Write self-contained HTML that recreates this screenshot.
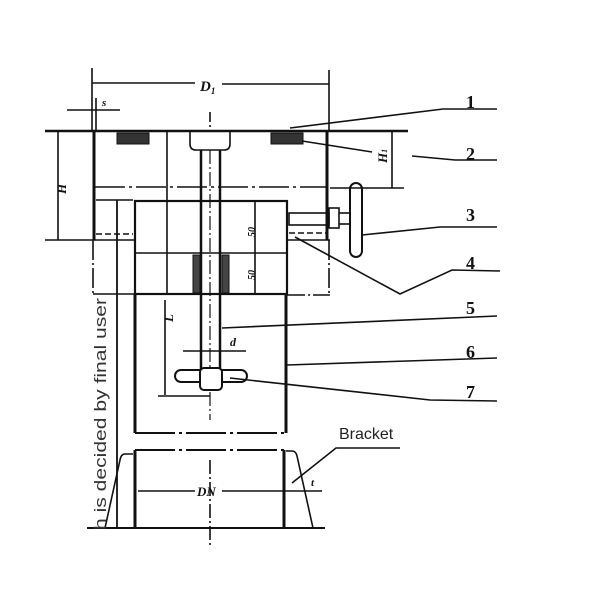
<!DOCTYPE html>
<html><head><style>body{margin:0;background:#fff}svg{display:block}</style></head><body>
<svg width="600" height="600" viewBox="0 0 600 600" xmlns="http://www.w3.org/2000/svg">
<g stroke="#111" fill="none" stroke-width="1.6">
<line x1="92" y1="68" x2="92" y2="131"/><line x1="329" y1="70" x2="329" y2="131"/>
<line x1="92" y1="83" x2="195" y2="83"/><line x1="222" y1="84" x2="329" y2="84"/>
<line x1="67" y1="110" x2="120" y2="110"/><line x1="96" y1="98" x2="96" y2="131"/>
<line x1="45" y1="131" x2="408" y2="131" stroke-width="2.5"/>
<line x1="94" y1="131" x2="94" y2="240" stroke-width="3"/>
<line x1="327" y1="131" x2="327" y2="240" stroke-width="3"/>
<line x1="58" y1="131" x2="58" y2="240"/><line x1="45" y1="240" x2="135" y2="240"/>
<rect x="117" y="133" width="32" height="11" fill="#333" stroke-width="1"/>
<rect x="271" y="133" width="32" height="11" fill="#333" stroke-width="1"/>
<path d="M190 132 v12 q0 6 6 6 h28 q6 0 6 -6 v-12"/>
<line x1="210" y1="112" x2="210" y2="127" stroke-dasharray="10 3 2 3"/>
<line x1="95" y1="187" x2="327" y2="187" stroke-dasharray="30 4 3 4"/>
<line x1="330" y1="188" x2="404" y2="188"/>
<line x1="392" y1="131" x2="392" y2="188"/>
<rect x="135" y="201" width="152" height="93" stroke-width="2.2"/>
<line x1="135" y1="253" x2="287" y2="253"/>
<line x1="255" y1="201" x2="255" y2="294"/><line x1="167" y1="131" x2="167" y2="294"/>
<line x1="96" y1="200" x2="133" y2="200"/><line x1="117" y1="200" x2="117" y2="528" stroke-width="1.8"/>
<line x1="96" y1="234" x2="133" y2="234" stroke-dasharray="6 3"/>
<line x1="93" y1="240" x2="93" y2="294" stroke-dasharray="20 3 2 3"/>
<line x1="93" y1="294" x2="135" y2="294"/>
<line x1="289" y1="233" x2="327" y2="233" stroke-dasharray="6 3"/>
<line x1="287" y1="240" x2="330" y2="240"/>
<line x1="329" y1="240" x2="329" y2="295" stroke-dasharray="20 3 2 3"/>
<line x1="287" y1="295" x2="330" y2="295" stroke-dasharray="18 3 2 3"/>
<line x1="201" y1="150" x2="201" y2="372" stroke-width="2.5"/>
<line x1="220" y1="150" x2="220" y2="372" stroke-width="2.5"/>
<line x1="210" y1="150" x2="210" y2="420" stroke-dasharray="14 3 2 3" stroke-width="1.2"/>
<rect x="193" y="255" width="7" height="38" fill="#444" stroke-width="1"/>
<rect x="222" y="255" width="7" height="38" fill="#444" stroke-width="1"/>
<rect x="289" y="213" width="40" height="12" stroke-width="1.6"/>
<rect x="329" y="208" width="10" height="20" stroke-width="1.6"/>
<line x1="339" y1="213" x2="350" y2="213"/><line x1="339" y1="224" x2="350" y2="224"/>
<rect x="350" y="183" width="12" height="74" rx="6" stroke-width="2"/>
<line x1="135" y1="294" x2="135" y2="433" stroke-width="3"/>
<line x1="286" y1="294" x2="286" y2="433" stroke-width="3"/>
<line x1="135" y1="433" x2="286" y2="433" stroke-width="2" stroke-dasharray="40 4 3 4"/>
<line x1="165" y1="300" x2="165" y2="395"/><line x1="158" y1="396" x2="210" y2="396"/>
<line x1="183" y1="351" x2="246" y2="351"/>
<rect x="175" y="370" width="72" height="12" rx="6" stroke-width="2" fill="#fff"/>
<rect x="200" y="368" width="22" height="22" rx="4" stroke-width="2" fill="#fff"/>
<line x1="135" y1="450" x2="285" y2="450" stroke-width="2" stroke-dasharray="40 4 3 4"/>
<line x1="135" y1="450" x2="135" y2="528" stroke-width="3"/>
<line x1="284" y1="450" x2="284" y2="528" stroke-width="3"/>
<line x1="87" y1="528" x2="325" y2="528" stroke-width="2"/>
<line x1="210" y1="460" x2="210" y2="545" stroke-dasharray="14 3 2 3"/>
<line x1="138" y1="491" x2="195" y2="491"/><line x1="222" y1="491" x2="322" y2="491"/>
<path d="M133 454 h-8 q-4 0 -5 6 l-15 68"/>
<path d="M286 451 h6 q4 0 5 5 l16 72"/>
<polyline points="290,128 443,109 497,109"/>
<line x1="302" y1="141" x2="372" y2="152"/>
<polyline points="412,156 455,160 497,160"/>
<polyline points="362,235 440,227 497,227"/>
<polyline points="295,237 400,294 452,270 500,271"/>
<line x1="222" y1="328" x2="497" y2="316"/>
<line x1="287" y1="365" x2="497" y2="358"/>
<polyline points="230,378 430,400 497,401"/>
<polyline points="292,483 336,448 400,448"/>
</g>
<g font-family="Liberation Serif, serif" font-style="italic" font-weight="bold" fill="#111">
<text x="200" y="91" font-size="15">D<tspan font-size="9" dy="3">1</tspan></text>
<text x="102" y="106" font-size="11">s</text>
<text x="466" y="108" font-size="18" font-style="normal">1</text>
<text x="466" y="160" font-size="18" font-style="normal">2</text>
<text x="466" y="221" font-size="18" font-style="normal">3</text>
<text x="466" y="269" font-size="18" font-style="normal">4</text>
<text x="466" y="314" font-size="18" font-style="normal">5</text>
<text x="466" y="358" font-size="18" font-style="normal">6</text>
<text x="466" y="398" font-size="18" font-style="normal">7</text>
<text x="230" y="346" font-size="12">d</text>
<text x="197" y="496" font-size="13">DN</text>
<text x="311" y="486" font-size="11">t</text>
<text transform="translate(66,194) rotate(-90)" font-size="13">H</text>
<text transform="translate(387,163) rotate(-90)" font-size="13">H<tspan font-size="8">1</tspan></text>
<text transform="translate(173,322) rotate(-90)" font-size="13">L</text>
<text transform="translate(255,237) rotate(-90)" font-size="10">50</text>
<text transform="translate(255,280) rotate(-90)" font-size="10">50</text>
</g>
<text x="339" y="439" font-family="Liberation Sans, sans-serif" font-size="16" fill="#222">Bracket</text>
<text transform="translate(106,530) rotate(-90)" font-family="Liberation Sans, sans-serif" font-size="17" fill="#333" textLength="232" lengthAdjust="spacingAndGlyphs">h is decided by final user</text>
</svg>
</body></html>
